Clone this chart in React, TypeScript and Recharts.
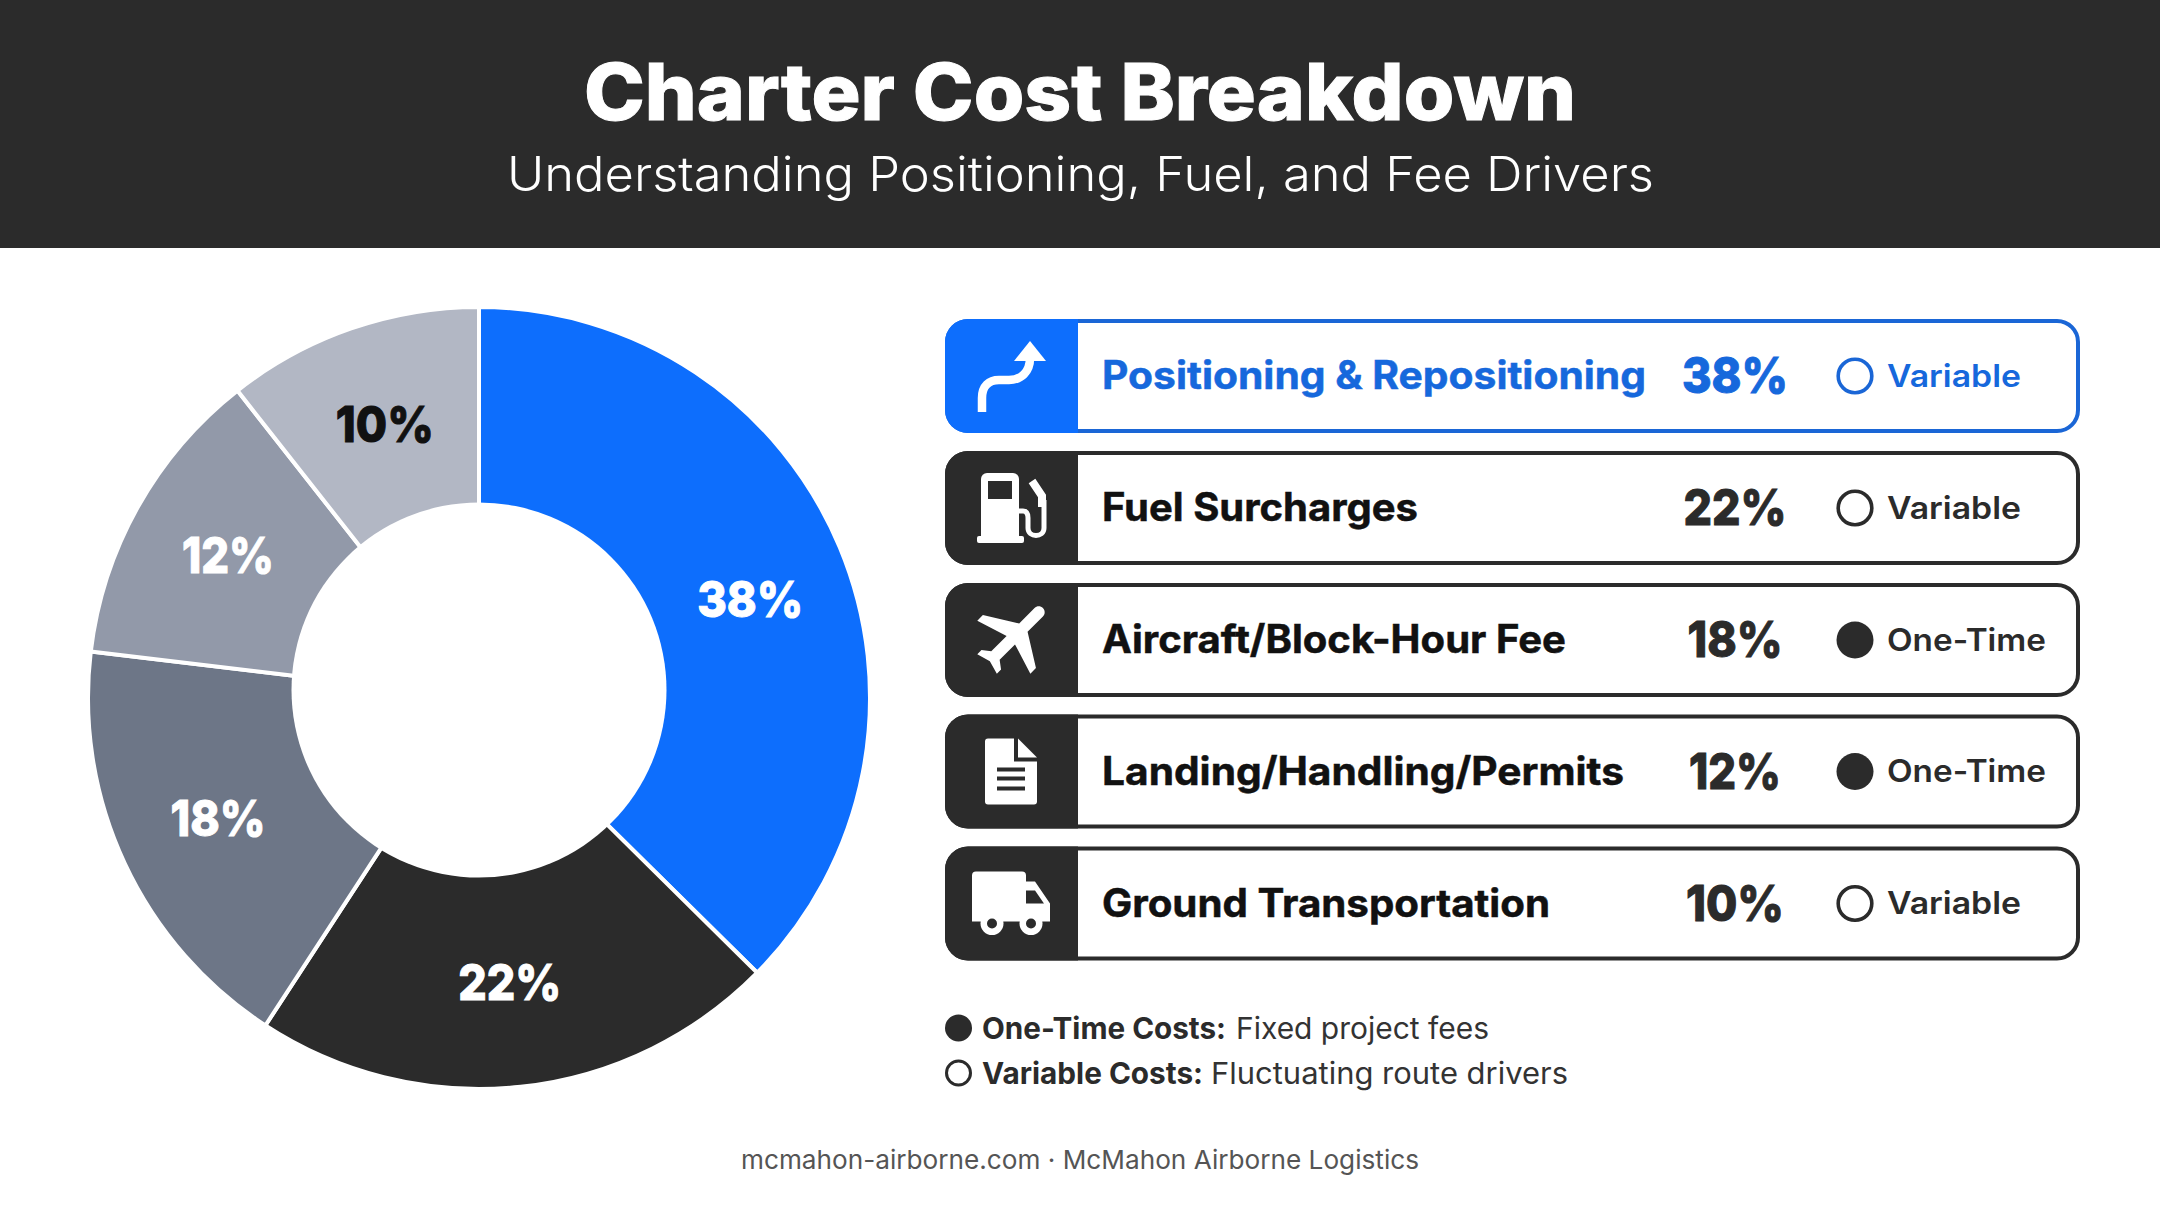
import { PieChart, Pie, Cell } from "recharts";

const FONT = "Inter, 'Noto Sans', sans-serif";
const DARK = "#2b2b2b";
const BLUE = "#0d6efd";
const BLUE_LINE = "#1a66d6";

// printed shares
const categories = [
  "Positioning & Repositioning",
  "Fuel Surcharges",
  "Aircraft/Block-Hour Fee",
  "Landing/Handling/Permits",
  "Ground Transportation",
];
const shares = [38, 22, 18, 12, 10];
const costTypes = ["Variable", "Variable", "One-Time", "One-Time", "Variable"];
// the slices in the picture are not quite as wide as the printed shares, these are read off the arcs
const arcShares = [37.4, 21.8, 17.7, 12.5, 10.6];

const sliceColors = [BLUE, DARK, "#6d7687", "#9299a9", "#b2b7c4"];
const sliceLabelColors = ["#fff", "#fff", "#fff", "#fff", "#111"];

// rendered widths of the texts, the reference font is wider than Inter
const labelWidths = [544, 316, 464, 522, 448];
const shareWidths = [106, 103, 95, 92, 98];
const typeWidths: Record<string, number> = { Variable: 134, "One-Time": 159 };

const rowCenters = [376, 508, 640, 771.5, 903.5];

const pieData = categories.map((name, i) => ({ name, arc: arcShares[i], share: shares[i] }));

const RADIAN = Math.PI / 180;

const renderSliceLabel = (props: any) => {
  const { cx, cy, midAngle, index } = props;
  // 38% sits a little lower in the reference
  const angle = (index === 0 ? midAngle - 3 : midAngle) * RADIAN;
  const x = cx + 288 * Math.cos(angle);
  const y = cy - 288 * Math.sin(angle);
  return (
    <text
      x={x}
      y={y + 16}
      textAnchor="middle"
      fontFamily={FONT}
      fontWeight={800}
      fontSize={50}
      fill={sliceLabelColors[index]}
      stroke={sliceLabelColors[index]}
      strokeWidth={1}
      textLength={shareWidths[index]}
      lengthAdjust="spacingAndGlyphs"
    >
      {shares[index]}%
    </text>
  );
};

const ArrowIcon = () => (
  <g>
    <path d="M -29 36 V 22 C -29 10 -22 4 -12 4 H -2 C 10 4 19 -4 19 -18" fill="none" stroke="#fff" strokeWidth={8.5} />
    <path d="M 19 -35 L 35 -15 H 3 Z" fill="#fff" />
  </g>
);

const FuelIcon = () => (
  <g>
    <path d="M -30 -29 a 6 6 0 0 1 6 -6 H 2 a 6 6 0 0 1 6 6 V 29 H -30 Z" fill="#fff" />
    <rect x={-34} y={28} width={47} height={7} rx={2} fill="#fff" />
    <rect x={-23} y={-27} width={24} height={18} fill={DARK} />
    <path d="M 8 3 H 12 C 16 3 17 6 17 10 V 20 C 17 30 33 30 33 20 V -8" fill="none" stroke="#fff" strokeWidth={5} />
    <path d="M 21 -27 L 31 -12 V -1" fill="none" stroke="#fff" strokeWidth={8} />
  </g>
);

const PlaneIcon = () => (
  <path
    transform="translate(4,-4) rotate(45) scale(3.95) translate(-11.5,-12)"
    d="M21 16v-2l-8-5V3.5c0-.83-.67-1.5-1.5-1.5S10 2.67 10 3.5V9l-8 5v2l8-2.5V19l-2 1.5V22l3.5-1 3.5 1v-1.5L13 19v-5.5l8 2.5z"
    fill="#fff"
  />
);

const DocIcon = () => (
  <g>
    <path d="M -26 -30 a 3 3 0 0 1 3 -3 H 3 V -10 H 26 V 30 a 3 3 0 0 1 -3 3 H -23 a 3 3 0 0 1 -3 -3 Z" fill="#fff" />
    <path d="M 7 -33 L 26 -14 H 7 Z" fill="#fff" />
    <rect x={-14} y={-4} width={28} height={4} fill={DARK} />
    <rect x={-14} y={5} width={28} height={4} fill={DARK} />
    <rect x={-14} y={15} width={28} height={4} fill={DARK} />
  </g>
);

const TruckIcon = () => (
  <g>
    <path d="M -39 -28 a 4 4 0 0 1 4 -4 H 11 a 4 4 0 0 1 4 4 V -22 H 24 L 39 0 V 18 H -39 Z" fill="#fff" />
    <path d="M 15 -13 H 24 L 33 0 H 15 Z" fill={DARK} />
    <circle cx={-19} cy={20} r={11.5} fill="#fff" />
    <circle cx={20} cy={20} r={11.5} fill="#fff" />
    <circle cx={-19} cy={20} r={5} fill={DARK} />
    <circle cx={20} cy={20} r={5} fill={DARK} />
  </g>
);

const icons = [ArrowIcon, FuelIcon, PlaneIcon, DocIcon, TruckIcon];

const CostRow = ({ index }: { index: number }) => {
  const cy = rowCenters[index];
  const top = cy - 57;
  const color = index === 0 ? BLUE_LINE : DARK;
  const textColor = index === 0 ? "#1668dc" : "#111";
  const panel = index === 0 ? BLUE : DARK;
  const Icon = icons[index];
  const type = costTypes[index];
  return (
    <g>
      <rect x={947} y={top + 2} width={1131} height={110} rx={21} fill="#fff" stroke={color} strokeWidth={4} />
      <path d={`M 1078 ${top} V ${top + 114} H 968 a 23 23 0 0 1 -23 -23 V ${top + 23} a 23 23 0 0 1 23 -23 Z`} fill={panel} />
      <g transform={`translate(1011,${cy})`}>
        <Icon />
      </g>
      <text
        x={1102}
        y={cy + 13}
        fontFamily={FONT}
        fontWeight={700}
        fontSize={39}
        fill={textColor}
        stroke={textColor}
        strokeWidth={0.5}
        textLength={labelWidths[index]}
        lengthAdjust="spacingAndGlyphs"
      >
        {categories[index]}
      </text>
      <text
        x={1735}
        y={cy + 17}
        textAnchor="middle"
        fontFamily={FONT}
        fontWeight={800}
        fontSize={50}
        fill={index === 0 ? "#1668dc" : DARK}
        stroke={index === 0 ? "#1668dc" : DARK}
        strokeWidth={1}
        textLength={shareWidths[index]}
        lengthAdjust="spacingAndGlyphs"
      >
        {shares[index]}%
      </text>
      <circle
        cx={1855}
        cy={cy}
        r={type === "One-Time" ? 18.5 : 16.8}
        fill={type === "One-Time" ? DARK : "#fff"}
        stroke={type === "One-Time" ? "none" : color}
        strokeWidth={3.6}
      />
      <text
        x={1887}
        y={cy + 10.5}
        fontFamily={FONT}
        fontWeight={600}
        fontSize={31}
        fill={index === 0 ? "#1668dc" : DARK}
        textLength={typeWidths[type]}
        lengthAdjust="spacingAndGlyphs"
      >
        {type}
      </text>
    </g>
  );
};

const App = () => (
  <div style={{ position: "absolute", left: 0, top: 0, width: 2160, height: 1206, background: "#fff", overflow: "hidden" }}>
    <svg width={2160} height={1206} style={{ position: "absolute", left: 0, top: 0 }}>
      <rect x={0} y={0} width={2160} height={248} fill={DARK} />
      <text x={1080} y={120} textAnchor="middle" fontFamily={FONT} fontWeight={800} fontSize={78} fill="#fff" stroke="#fff" strokeWidth={1} textLength={992} lengthAdjust="spacingAndGlyphs">
        Charter Cost Breakdown
      </text>
      <text x={1080.5} y={191} textAnchor="middle" fontFamily={FONT} fontWeight={300} fontSize={48} fill="#fff" textLength={1147} lengthAdjust="spacingAndGlyphs">
        Understanding Positioning, Fuel, and Fee Drivers
      </text>

      {categories.map((_, i) => (
        <CostRow key={i} index={i} />
      ))}

      <circle cx={958.5} cy={1028} r={13.5} fill={DARK} />
      <text x={982} y={1039} fontFamily={FONT} fontWeight={700} fontSize={30} fill={DARK} textLength={244} lengthAdjust="spacingAndGlyphs">
        One-Time Costs:
      </text>
      <text x={1236} y={1039} fontFamily={FONT} fontWeight={400} fontSize={30} fill="#333" textLength={253} lengthAdjust="spacingAndGlyphs">
        Fixed project fees
      </text>
      <circle cx={958.5} cy={1073} r={12} fill="#fff" stroke={DARK} strokeWidth={3} />
      <text x={982} y={1084} fontFamily={FONT} fontWeight={700} fontSize={30} fill={DARK} textLength={221} lengthAdjust="spacingAndGlyphs">
        Variable Costs:
      </text>
      <text x={1211} y={1084} fontFamily={FONT} fontWeight={400} fontSize={30} fill="#333" textLength={357} lengthAdjust="spacingAndGlyphs">
        Fluctuating route drivers
      </text>

      <text x={1080} y={1169} textAnchor="middle" fontFamily={FONT} fontWeight={400} fontSize={26} fill="#555" textLength={678} lengthAdjust="spacingAndGlyphs">
        mcmahon-airborne.com · McMahon Airborne Logistics
      </text>
    </svg>

    <div style={{ position: "absolute", left: 0, top: 248 }}>
      <PieChart width={960} height={958} margin={{ top: 0, right: 0, bottom: 0, left: 0 }}>
        <Pie
          data={pieData}
          dataKey="arc"
          nameKey="name"
          cx={479}
          cy={450}
          innerRadius={172}
          outerRadius={391}
          startAngle={90}
          endAngle={-270}
          stroke="#fff"
          strokeWidth={4}
          label={renderSliceLabel}
          labelLine={false}
          isAnimationActive={false}
        >
          {pieData.map((d, i) => (
            <Cell key={d.name} fill={sliceColors[i]} />
          ))}
        </Pie>
      </PieChart>
    </div>

    {/* the hole in the reference sits a few px above the ring's centre */}
    <svg width={960} height={958} style={{ position: "absolute", left: 0, top: 248 }}>
      <circle cx={479} cy={442} r={187.5} fill="#fff" />
    </svg>
  </div>
);

export default App;
